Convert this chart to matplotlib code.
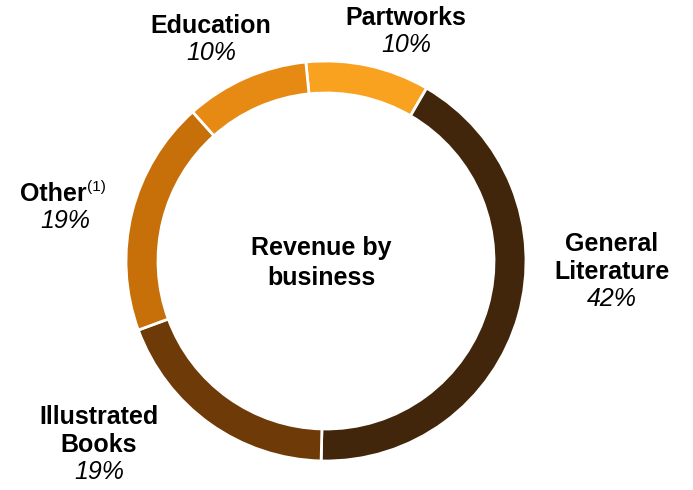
import matplotlib.pyplot as plt

# Revenue split by business line, clockwise from the top
segments = ['Partworks', 'General Literature', 'Illustrated Books', 'Other', 'Education']
shares = [10, 42, 19, 19, 10]
colors = ['#F9A220', '#42260C', '#6E3A08', '#C76F08', '#E68A14']

plt.rcParams['font.family'] = ['Liberation Sans', 'DejaVu Sans']

W, H = 693, 490
fig = plt.figure(figsize=(W / 100, H / 100), dpi=100)
ax = fig.add_axes([0, 0, 1, 1])

cx, cy, r = 326, H - 261, 200
ax.pie(shares, colors=colors, startangle=95.8, counterclock=False,
       center=(cx, cy), radius=r, frame=True,
       wedgeprops=dict(width=r * 0.16, edgecolor='white', linewidth=2))
ax.set_xlim(0, W)
ax.set_ylim(0, H)
ax.set_aspect('equal')
ax.axis('off')

fs = 18


def label(x, y, lines, pct):
    # bold name lines (top to bottom), then the italic share below
    for i, txt in enumerate(lines):
        ax.text(x, H - (y + i * 28), txt, ha='center', va='center',
                fontsize=fs, fontweight='bold')
    ax.text(x, H - (y + len(lines) * 28 - 1), f'{pct}%', ha='center',
            va='center', fontsize=fs, fontstyle='italic')


label(406, 18, ['Partworks'], shares[0])
label(612, 244, ['General', 'Literature'], shares[1])
label(99, 417, ['Illustrated', 'Books'], shares[2])
label(211, 26, ['Education'], shares[4])

# "Other" carries a footnote marker
ax.text(87, H - 194, 'Other', ha='right', va='center', fontsize=fs, fontweight='bold')
ax.text(87, H - 187, '(1)', ha='left', va='center', fontsize=11)
ax.text(65, H - 221, f'{shares[3]}%', ha='center', va='center',
        fontsize=fs, fontstyle='italic')

ax.text(321, H - 248, 'Revenue by', ha='center', va='center', fontsize=fs, fontweight='bold')
ax.text(321, H - 278, 'business', ha='center', va='center', fontsize=fs, fontweight='bold')

fig.savefig('out.png', dpi=100)
